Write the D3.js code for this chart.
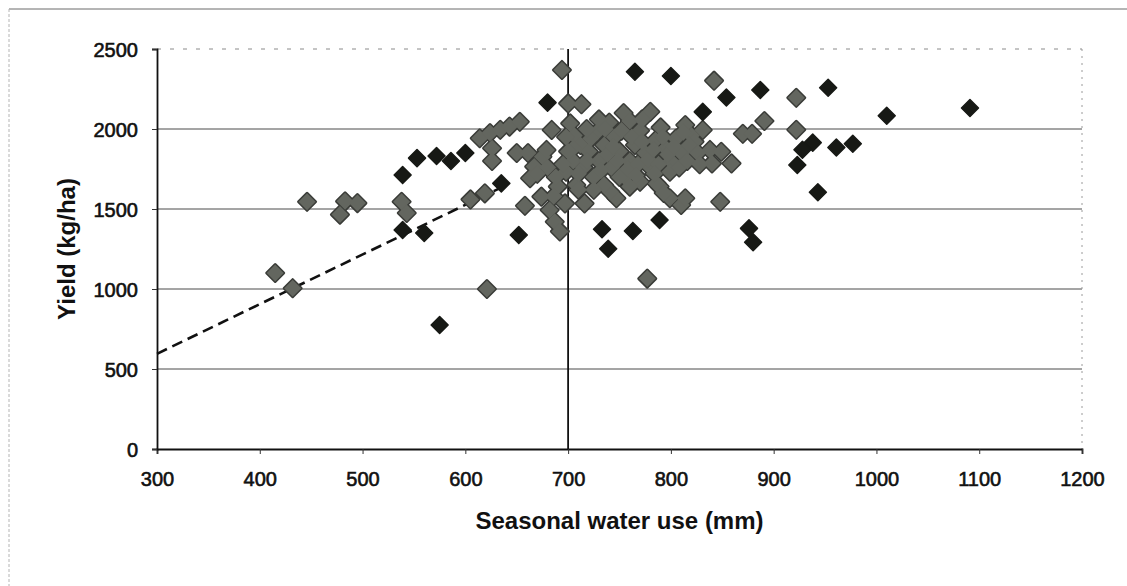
<!DOCTYPE html>
<html>
<head>
<meta charset="utf-8">
<script src="https://d3js.org/d3.v7.min.js"></script>
<style>
  body { margin: 0; background: #fff; }
  text { font-family: "Liberation Sans", Arial, sans-serif; }
</style>
</head>
<body>
<svg id="plot1" width="1127" height="586"></svg>
<script>
// values: [seasonal water use (mm), yield (kg/ha)]
var grayPoints = [
    [415,1100],[432,1005],[446,1545],[478,1465],[483,1548],[495,1537],[538,1545],[543,1475],
    [605,1560],[619,1598],[621,1000],[614,1942],[624,1975],[634,1995],[643,2015],[653,2045],
    [626,1880],[626,1800],[650,1850],[661,1850],[667,1765],[663,1692],[658,1520],[674,1577],
    [682,1494],[687,1420],[692,1360],[697,1535],[675,1827],[679,1869],[684,1994],[694,2369],
    [700,2160],[713,2155],[708,1650],[698,1733],[716,1535],[670,1720],[690,1640],[686,1580],
    [702,2035],[706,1960],[712,1900],[720,1860],[705,1800],[715,1760],[725,1700],[730,1800],
    [735,1900],[728,1980],[740,2040],[745,1950],[750,1860],[742,1760],[755,1700],[760,1800],
    [765,1900],[754,2100],[770,1990],[775,1850],[780,1760],[785,1930],[790,2010],[795,1880],
    [800,1800],[780,2108],[805,1940],[810,1850],[814,2025],[820,1960],[823,1921],[831,1994],
    [838,1869],[849,1858],[859,1785],[840,1785],[870,1970],[879,1970],[891,2050],[922,2195],
    [922,1995],[842,2302],[799,1733],[789,1640],[799,1567],[810,1525],[814,1567],[770,1670],
    [747,1567],[741,1608],[786,1660],[793,1600],[848,1545],[777,1065],[760,1640],[735,1650],
    [750,1700],[705,1880],[710,1720],[718,1800],[722,1940],[725,1620],[732,1740],[738,1840],
    [744,1890],[748,1800],[752,1990],[758,1750],[762,1950],[768,1780],[772,1920],[778,1810],
    [783,1870],[788,1780],[792,1950],[797,1840],[803,1890],[808,1760],[812,1980],[818,1900],
    [826,1850],[760,2050],[772,2060],[730,2060],[718,2000],[700,1860],[695,1780],[688,1700],
    [680,1760],[710,1620],[736,2000],[766,1710],[784,1720],[816,1800],[828,1780],[698,1950]
];

var blackPoints = [
    [539,1712],[553,1818],[572,1831],[586,1800],[600,1850],[539,1369],[560,1350],[575,775],
    [635,1660],[652,1337],[680,2165],[733,1373],[739,1252],[763,1363],[789,1431],[765,2358],
    [800,2331],[831,2107],[854,2197],[887,2244],[953,2258],[1010,2083],[1091,2131],[938,1915],
    [928,1870],[961,1884],[977,1908],[923,1775],[943,1605],[876,1379],[880,1292]
];

// dashed boundary line (start and end)
var trendWater = [300, 640];
var trendYield = [595, 1650];

var xTicks = [300,400,500,600,700,800,900,1000,1100,1200];
var yTicks = [0,500,1000,1500,2000,2500];

var svg = d3.select("#plot1"),
    margin = {top: 49, right: 45, bottom: 137, left: 157},
    width = +svg.attr("width") - margin.left - margin.right,
    height = +svg.attr("height") - margin.top - margin.bottom;

var x = d3.scaleLinear().domain([300, 1200]).range([0, width]),
    y = d3.scaleLinear().domain([0, 2500]).range([height, 0]);

// scanned outer frame
svg.append("line").attr("x1", 9).attr("x2", 1127).attr("y1", 9).attr("y2", 9)
    .attr("stroke", "#6a6a6a").attr("stroke-width", 1);
svg.append("line").attr("x1", 9).attr("x2", 9).attr("y1", 9).attr("y2", 586)
    .attr("stroke", "#b4b4b4").attr("stroke-width", 1).attr("stroke-dasharray", "3,2");

var g = svg.append("g")
    .attr("transform", "translate(" + margin.left + "," + margin.top + ")");

// horizontal gridlines (top one is faint on the scan)
g.selectAll('.grid')
    .data(yTicks.filter(function(d){ return d > 0; }))
    .enter()
    .append('line')
    .attr('class', 'grid')
    .attr('x1', 0)
    .attr('x2', width)
    .attr('y1', function(d){ return y(d); })
    .attr('y2', function(d){ return y(d); })
    .attr('stroke', function(d){ return d == 2500 ? '#8a8a8a' : '#4a4a4a'; })
    .attr('stroke-width', 1)
    .attr('stroke-dasharray', function(d){ return d == 2500 ? '4,9' : null; });

// faint right edge of the plot area
g.append('line')
    .attr('x1', width).attr('x2', width)
    .attr('y1', 0).attr('y2', height)
    .attr('stroke', '#9a9a9a')
    .attr('stroke-dasharray', '2,5');

// the 700 mm divider
g.append('line')
    .attr('x1', x(700)).attr('x2', x(700))
    .attr('y1', 0).attr('y2', height)
    .attr('stroke', '#111')
    .attr('stroke-width', 1.8);

// axes
var xAxis = d3.axisBottom(x).tickValues(xTicks).tickFormat(d3.format('d')).tickSize(5).tickPadding(18);
var yAxis = d3.axisLeft(y).tickValues(yTicks).tickFormat(d3.format('d')).tickSize(5).tickPadding(14);

var gx = g.append('g').attr('transform', 'translate(0,' + height + ')').call(xAxis);
var gy = g.append('g').call(yAxis);

[gx, gy].forEach(function(a){
    a.select('.domain').attr('stroke', '#111').attr('stroke-width', 1.8);
    a.selectAll('.tick line').attr('stroke', '#333');
    a.selectAll('.tick text')
        .attr('fill', '#111')
        .attr('stroke', '#111')
        .attr('stroke-width', 0.6)
        .style('font-size', '20px')
        .style('font-family', '"Liberation Sans", Arial, sans-serif');
});
gy.selectAll('.tick text').attr('dy', '0.36em');

// dashed line under the points
g.append('line')
    .attr('x1', x(trendWater[0])).attr('y1', y(trendYield[0]))
    .attr('x2', x(trendWater[1])).attr('y2', y(trendYield[1]))
    .attr('stroke', '#111')
    .attr('stroke-width', 2.6)
    .attr('stroke-dasharray', '11,6');

var diamond = 'M0,-8.5L8.5,0L0,8.5L-8.5,0Z';

function placePt(d){ return 'translate(' + x(d[0]) + ',' + y(d[1]) + ')'; }

// gray series: dark outline layer first, fill on top, so overlapping
// markers merge into one blob like on the scan
g.selectAll('.grayEdge')
    .data(grayPoints)
    .enter()
    .append('path')
    .attr('class', 'grayEdge')
    .attr('d', diamond)
    .attr('transform', placePt)
    .attr('fill', '#3a3c38')
    .attr('stroke', '#3a3c38')
    .attr('stroke-width', 3)
    .attr('stroke-linejoin', 'round');

g.selectAll('.grayPt')
    .data(grayPoints)
    .enter()
    .append('path')
    .attr('class', 'grayPt')
    .attr('d', diamond)
    .attr('transform', placePt)
    .attr('fill', '#63665f');

g.selectAll('.blackPt')
    .data(blackPoints)
    .enter()
    .append('path')
    .attr('class', 'blackPt')
    .attr('d', diamond)
    .attr('transform', placePt)
    .attr('fill', '#171915')
    .attr('stroke', '#171915')
    .attr('stroke-width', 1.5)
    .attr('stroke-linejoin', 'round');

// axis titles
svg.append('text')
    .attr('x', margin.left + width / 2)
    .attr('y', 529)
    .attr('text-anchor', 'middle')
    .attr('fill', '#111')
    .style('font-size', '24px')
    .style('font-weight', 'bold')
    .text('Seasonal water use (mm)');

svg.append('text')
    .attr('transform', 'translate(75,' + (margin.top + height / 2) + ') rotate(-90)')
    .attr('text-anchor', 'middle')
    .attr('fill', '#111')
    .style('font-size', '24px')
    .style('font-weight', 'bold')
    .text('Yield (kg/ha)');
</script>
</body>
</html>
